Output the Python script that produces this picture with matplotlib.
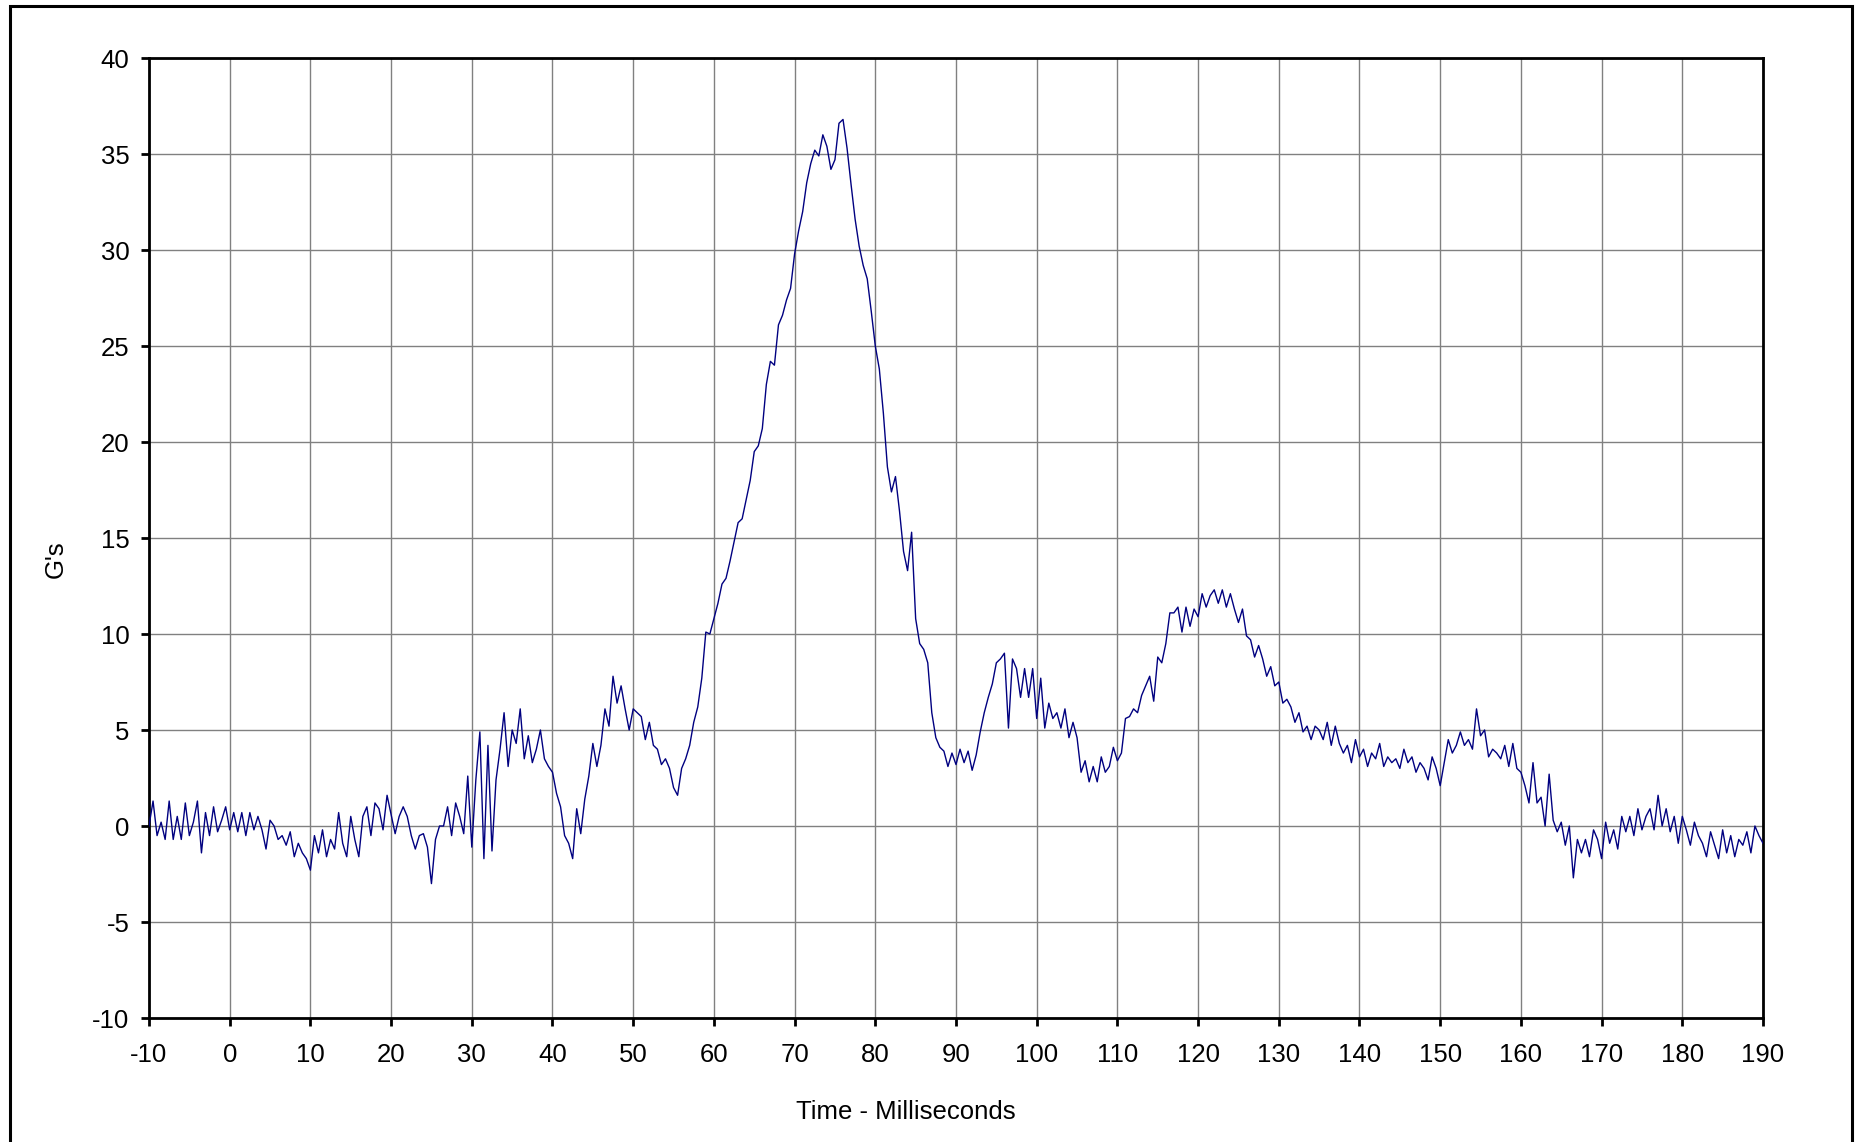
import numpy as np
import matplotlib.pyplot as plt
from matplotlib.patches import Rectangle

# accelerometer trace, every 0.5 ms from -10 to 190 ms
g_values = [
    0.0, 1.3, -0.5, 0.2, -0.7, 1.3, -0.7, 0.5, -0.7, 1.2,        # -10
    -0.5, 0.2, 1.3, -1.4, 0.7, -0.5, 1.0, -0.3, 0.3, 1.0,        # -5
    -0.2, 0.7, -0.3, 0.7, -0.5, 0.7, -0.2, 0.5, -0.2, -1.2,      # 0
    0.3, 0.0, -0.7, -0.5, -1.0, -0.3, -1.6, -0.9, -1.4, -1.7,    # 5
    -2.3, -0.5, -1.4, -0.2, -1.6, -0.7, -1.2, 0.7, -0.9, -1.6,   # 10
    0.5, -0.7, -1.6, 0.5, 1.0, -0.5, 1.2, 0.9, -0.2, 1.6,        # 15
    0.6, -0.4, 0.5, 1.0, 0.5, -0.5, -1.2, -0.5, -0.4, -1.1,      # 20
    -3.0, -0.7, 0.0, 0.0, 1.0, -0.5, 1.2, 0.5, -0.4, 2.6,        # 25
    -1.1, 2.4, 4.9, -1.7, 4.2, -1.3, 2.4, 4.0, 5.9, 3.1,         # 30
    5.0, 4.3, 6.1, 3.5, 4.7, 3.3, 4.0, 5.0, 3.5, 3.1,            # 35
    2.8, 1.7, 1.0, -0.5, -0.9, -1.7, 0.9, -0.4, 1.4, 2.6,        # 40
    4.3, 3.1, 4.2, 6.1, 5.2, 7.8, 6.4, 7.3, 6.1, 5.0,            # 45
    6.1, 5.9, 5.7, 4.5, 5.4, 4.2, 4.0, 3.2, 3.5, 3.0,            # 50
    2.0, 1.6, 3.0, 3.5, 4.2, 5.4, 6.2, 7.7, 10.1, 10.0,          # 55
    10.8, 11.6, 12.6, 12.9, 13.8, 14.8, 15.8, 16.0, 17.0, 18.0,  # 60
    19.5, 19.8, 20.7, 23.0, 24.2, 24.0, 26.1, 26.6, 27.4, 28.0,  # 65
    29.8, 31.0, 32.0, 33.5, 34.5, 35.2, 34.9, 36.0, 35.4, 34.2,  # 70
    34.7, 36.6, 36.8, 35.3, 33.4, 31.6, 30.2, 29.2, 28.5, 26.8,  # 75
    25.0, 23.8, 21.5, 18.7, 17.4, 18.2, 16.4, 14.3, 13.3, 15.3,  # 80
    10.8, 9.5, 9.2, 8.5, 5.9, 4.6, 4.1, 3.9, 3.1, 3.8,           # 85
    3.2, 4.0, 3.3, 3.9, 2.9, 3.7, 4.9, 5.9, 6.7, 7.4,            # 90
    8.5, 8.7, 9.0, 5.1, 8.7, 8.2, 6.7, 8.2, 6.7, 8.2,            # 95
    5.6, 7.7, 5.1, 6.4, 5.6, 5.9, 5.1, 6.1, 4.6, 5.4,            # 100
    4.6, 2.8, 3.4, 2.3, 3.1, 2.3, 3.6, 2.8, 3.1, 4.1,            # 105
    3.4, 3.8, 5.6, 5.7, 6.1, 5.9, 6.8, 7.3, 7.8, 6.5,            # 110
    8.8, 8.5, 9.5, 11.1, 11.1, 11.4, 10.1, 11.4, 10.4, 11.3,     # 115
    10.9, 12.1, 11.4, 12.0, 12.3, 11.6, 12.3, 11.4, 12.1, 11.3,  # 120
    10.6, 11.3, 9.9, 9.7, 8.8, 9.4, 8.7, 7.8, 8.3, 7.3,          # 125
    7.5, 6.4, 6.6, 6.2, 5.4, 5.9, 4.9, 5.2, 4.5, 5.2,            # 130
    5.0, 4.5, 5.4, 4.2, 5.2, 4.3, 3.8, 4.2, 3.3, 4.5,            # 135
    3.6, 4.0, 3.1, 3.8, 3.5, 4.3, 3.1, 3.6, 3.3, 3.5,            # 140
    3.0, 4.0, 3.3, 3.6, 2.8, 3.3, 3.0, 2.4, 3.6, 3.0,            # 145
    2.1, 3.3, 4.5, 3.8, 4.2, 4.9, 4.2, 4.5, 4.0, 6.1,            # 150
    4.7, 5.0, 3.6, 4.0, 3.8, 3.5, 4.2, 3.1, 4.3, 3.0,            # 155
    2.8, 2.1, 1.2, 3.3, 1.2, 1.5, 0.0, 2.7, 0.3, -0.3,           # 160
    0.2, -1.0, 0.0, -2.7, -0.7, -1.4, -0.7, -1.6, -0.2, -0.7,    # 165
    -1.7, 0.2, -0.9, -0.2, -1.2, 0.5, -0.3, 0.5, -0.5, 0.9,      # 170
    -0.2, 0.5, 0.9, -0.2, 1.6, 0.0, 0.9, -0.3, 0.5, -0.9,        # 175
    0.5, -0.2, -1.0, 0.2, -0.5, -0.9, -1.6, -0.3, -1.0, -1.7,    # 180
    -0.2, -1.4, -0.5, -1.6, -0.7, -1.0, -0.3, -1.4, 0.0, -0.5,   # 185
    -0.9,                                                        # 190
]
t_start, t_end = -10, 190
x_ticks = list(range(-10, 191, 10))
y_ticks = list(range(-10, 41, 5))
x_title = "Time - Milliseconds"
y_title = "G's"

plt.rcParams['font.family'] = ['Liberation Sans', 'DejaVu Sans']
plt.rcParams['axes.unicode_minus'] = False

time_ms = np.linspace(t_start, t_end, len(g_values))

W, H = 1858, 1142
fig = plt.figure(figsize=(W / 100, H / 100), dpi=100)
ax = fig.add_axes([149 / W, 1 - 1018 / H, (1763 - 149) / W, (1018 - 58) / H])

ax.plot(time_ms, g_values, color='#000080', lw=1.0, zorder=3)

ax.set_xlim(t_start, t_end)
ax.set_ylim(-10, 40)
ax.set_xticks(x_ticks)
ax.set_yticks(y_ticks)
ax.grid(True, color='#808080', lw=1.0)
ax.set_axisbelow(True)
for s in ax.spines.values():
    s.set_color('black')
    s.set_linewidth(2)
ax.tick_params(direction='out', length=6, width=2, labelsize=18.5)
ax.tick_params(axis='x', pad=12)
ax.tick_params(axis='y', pad=8)

fig.text(906 / W, 1 - 1112 / H, x_title, ha='center', va='center', fontsize=18.5)
fig.text(56 / W, 1 - 559 / H, y_title, ha='center', va='center',
         rotation=90, fontsize=18.5)

# outer chart border
fig.patches.append(Rectangle((10 / W, -0.02), (1852 - 10) / W, 1 - 6 / H + 0.02,
                             transform=fig.transFigure, fill=False,
                             edgecolor='black', lw=2.2))

fig.savefig('out.png', dpi=100)
